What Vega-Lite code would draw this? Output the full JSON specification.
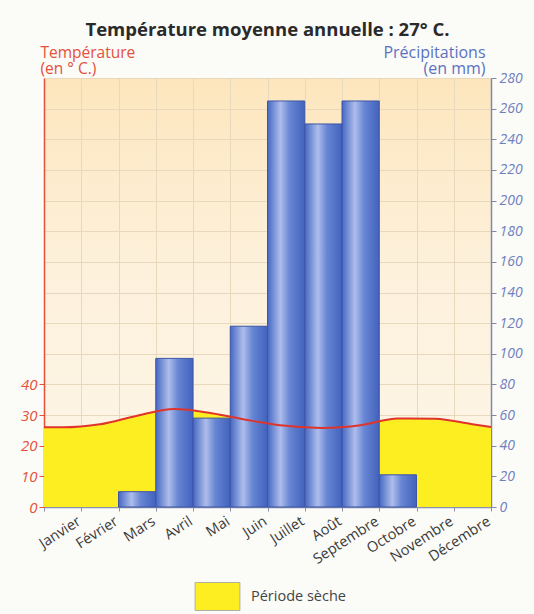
{
  "$schema": "https://vega.github.io/schema/vega-lite/v6.json",
  "width": 447,
  "height": 429,
  "autosize": {"type": "none"},
  "padding": {"left": 44, "top": 78, "right": 43, "bottom": 107},
  "background": "#fbfbf8",
  "title": {
    "text": "Température moyenne annuelle : 27° C.",
    "anchor": "middle",
    "frame": "group",
    "font": "Open Sans",
    "fontSize": 18.5,
    "fontWeight": "bold",
    "color": "#2a2a2a",
    "offset": 5
  },
  "config": {
    "font": "Open Sans",
    "view": {
      "stroke": null,
      "fill": {
        "gradient": "linear",
        "x1": 0, "y1": 0, "x2": 0, "y2": 1,
        "stops": [
          {"offset": 0, "color": "#fde6bd"},
          {"offset": 0.45, "color": "#fdf1dc"},
          {"offset": 1, "color": "#fdf6e8"}
        ]
      }
    }
  },
  "datasets": {
    "mois": [
      {"mois": "Janvier", "t": 0, "fin": 1, "precip": 0},
      {"mois": "Février", "t": 1, "fin": 2, "precip": 0},
      {"mois": "Mars", "t": 2, "fin": 3, "precip": 10},
      {"mois": "Avril", "t": 3, "fin": 4, "precip": 97},
      {"mois": "Mai", "t": 4, "fin": 5, "precip": 58},
      {"mois": "Juin", "t": 5, "fin": 6, "precip": 118},
      {"mois": "Juillet", "t": 6, "fin": 7, "precip": 265},
      {"mois": "Août", "t": 7, "fin": 8, "precip": 250},
      {"mois": "Septembre", "t": 8, "fin": 9, "precip": 265},
      {"mois": "Octobre", "t": 9, "fin": 10, "precip": 21},
      {"mois": "Novembre", "t": 10, "fin": 11, "precip": 0},
      {"mois": "Décembre", "t": 11, "fin": 12, "precip": 0}
    ],
    "temp": [
      {"t": 0, "temperature": 26},
      {"t": 0.5, "temperature": 26},
      {"t": 1.5, "temperature": 27},
      {"t": 2.5, "temperature": 29.8},
      {"t": 3.5, "temperature": 32},
      {"t": 4.5, "temperature": 30.6},
      {"t": 5.5, "temperature": 28.3},
      {"t": 6.5, "temperature": 26.5},
      {"t": 7.5, "temperature": 25.8},
      {"t": 8.5, "temperature": 26.7},
      {"t": 9.5, "temperature": 28.9},
      {"t": 10.5, "temperature": 28.8},
      {"t": 11.5, "temperature": 27},
      {"t": 12, "temperature": 26.1}
    ]
  },
  "encoding": {
    "x": {
      "field": "t",
      "type": "quantitative",
      "scale": {"domain": [0, 12], "nice": false, "zero": false},
      "axis": {
        "title": null,
        "values": [0, 1, 2, 3, 4, 5, 6, 7, 8, 9, 10, 11, 12],
        "labelExpr": "datum.value >= 1 ? ['Janvier','Février','Mars','Avril','Mai','Juin','Juillet','Août','Septembre','Octobre','Novembre','Décembre'][datum.value - 1] : ''",
        "labelAngle": -33,
        "labelAlign": "right",
        "labelBaseline": "top",
        "labelOffset": -6,
        "labelPadding": 3,
        "labelFlush": false,
        "labelOverlap": false,
        "labelBound": false,
        "labelFontSize": 14.5,
        "labelColor": "#3a3a3a",
        "grid": true,
        "gridColor": "#e8d9bd",
        "gridWidth": 1,
        "tickColor": "#8a90ad",
        "tickSize": 4,
        "domainColor": "#8a90ad",
        "domainWidth": 1.5
      }
    }
  },
  "layer": [
    {
      "data": {"name": "temp"},
      "mark": {"type": "area", "interpolate": "monotone", "fill": "#fcee21", "opacity": 1},
      "encoding": {
        "y": {
          "field": "temperature",
          "type": "quantitative",
          "scale": {"domain": [0, 140], "nice": false},
          "axis": {
            "orient": "left",
            "values": [0, 10, 20, 30, 40],
            "grid": false,
            "title": ["Température", "(en ° C.)"],
            "titleAngle": 0,
            "titleAlign": "left",
            "titleBaseline": "alphabetic",
            "titleX": -4,
            "titleY": -21,
            "titleFontSize": 15.5,
            "titleFontWeight": "normal",
            "titleLineHeight": 16,
            "titleColor": "#e5503a",
            "labelColor": "#e5503a",
            "labelFontSize": 15,
            "labelFontStyle": "italic",
            "labelPadding": 2,
            "tickColor": "#e5503a",
            "tickSize": 5,
            "domainColor": "#e5503a",
            "domainWidth": 1.5
          }
        },
        "color": {
          "datum": "Période sèche",
          "scale": {"range": ["#fcee21"]},
          "legend": {
            "title": null,
            "orient": "none",
            "legendX": 159,
            "legendY": 504,
            "symbolType": "M-1.6,-1H1.6V1H-1.6Z",
            "symbolSize": 784,
            "symbolStrokeColor": "#b0b0a0",
            "symbolStrokeWidth": 1,
            "symbolOpacity": 1,
            "labelFontSize": 14.5,
            "labelColor": "#444444",
            "labelOffset": 19
          }
        }
      }
    },
    {
      "data": {"name": "mois"},
      "transform": [{"filter": "datum.precip > 0"}],
      "mark": {
        "type": "rect",
        "stroke": "#3c55a6",
        "strokeWidth": 1,
        "color": {
          "gradient": "linear",
          "x1": 0, "y1": 0, "x2": 1, "y2": 0,
          "stops": [
            {"offset": 0, "color": "#4668c3"},
            {"offset": 0.35, "color": "#aebdeb"},
            {"offset": 0.6, "color": "#6685d3"},
            {"offset": 1, "color": "#4262bd"}
          ]
        }
      },
      "encoding": {
        "x2": {"field": "fin"},
        "y": {
          "field": "precip",
          "type": "quantitative",
          "scale": {"domain": [0, 280], "nice": false},
          "axis": {
            "orient": "right",
            "values": [0, 20, 40, 60, 80, 100, 120, 140, 160, 180, 200, 220, 240, 260, 280],
            "grid": true,
            "gridColor": "#e8d9bd",
            "gridWidth": 1,
            "title": ["Précipitations", "(en mm)"],
            "titleAngle": 0,
            "titleAlign": "right",
            "titleBaseline": "alphabetic",
            "titleX": -6,
            "titleY": -21,
            "titleFontSize": 16,
            "titleFontWeight": "normal",
            "titleLineHeight": 16,
            "titleColor": "#5b72c2",
            "labelColor": "#6f7fbe",
            "labelFontSize": 14,
            "labelFontStyle": "italic",
            "labelPadding": 3,
            "tickColor": "#7f88ad",
            "tickSize": 5,
            "domainColor": "#7f88ad",
            "domainWidth": 1.5
          }
        },
        "y2": {"datum": 0}
      }
    },
    {
      "data": {"name": "temp"},
      "mark": {"type": "line", "interpolate": "monotone", "color": "#e0342a", "strokeWidth": 2},
      "encoding": {
        "y": {
          "field": "temperature",
          "type": "quantitative",
          "scale": {"domain": [0, 140], "nice": false},
          "axis": null
        }
      }
    }
  ],
  "resolve": {"scale": {"y": "independent"}}
}
